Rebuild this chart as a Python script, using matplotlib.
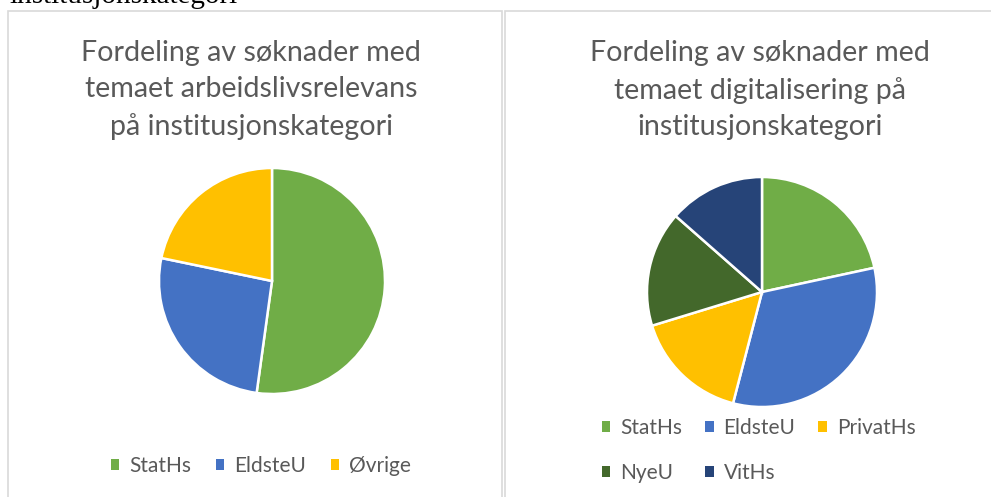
import matplotlib
matplotlib.use("Agg")
import matplotlib.pyplot as plt
from matplotlib.patches import Rectangle, Patch

W, H = 991, 497

# Data
left_categories = ["StatHs", "EldsteU", "Øvrige"]
left_values = [12, 6, 5]
left_colors = ["#70AD47", "#4472C4", "#FFC000"]
left_title = "Fordeling av søknader med\ntemaet arbeidslivsrelevans\npå institusjonskategori"

right_categories = ["StatHs", "EldsteU", "PrivatHs", "NyeU", "VitHs"]
right_values = [8, 12, 6, 6, 5]
right_colors = ["#70AD47", "#4472C4", "#FFC000", "#43682B", "#264478"]
right_title = "Fordeling av søknader med\ntemaet digitalisering på\ninstitusjonskategori"

top_caption = "institusjonskategori"

FONT = ["Lato", "DejaVu Sans"]
GREY = "#595959"

fig = plt.figure(figsize=(W / 100, H / 100), dpi=100)
fig.patch.set_facecolor("white")


def fx(px):
    return px / W


def fy(py):
    return 1 - py / H


# panel borders
for x0, x1 in [(8, 502), (505, 1000)]:
    fig.add_artist(Rectangle((fx(x0), fy(510)), fx(x1 - x0), (510 - 11) / H,
                             transform=fig.transFigure, fill=False,
                             edgecolor="#D9D9D9", linewidth=1.2))

# cut-off caption at top
fig.text(fx(9), fy(3), top_caption, family="Liberation Serif", fontsize=21,
         color="black", ha="left", va="baseline")


def make_pie(cx, cy, r, values, colors):
    ax = fig.add_axes([fx(cx - r), fy(cy + r), fx(2 * r), 2 * r / H])
    ax.pie(values, colors=colors, startangle=90, counterclock=False,
           wedgeprops=dict(edgecolor="white", linewidth=1.8))
    ax.set_xlim(-1, 1)
    ax.set_ylim(-1, 1)
    ax.set_aspect("auto")
    ax.axis("off")
    return ax


make_pie(272, 281, 113, left_values, left_colors)
make_pie(762, 292, 115, right_values, right_colors)

# titles
fig.text(fx(251), fy(90), left_title, family=FONT, fontsize=20.6, color=GREY,
         ha="center", va="center", linespacing=1.47)
fig.text(fx(760), fy(90), right_title, family=FONT, fontsize=20.6, color=GREY,
         ha="center", va="center", linespacing=1.47)

# legends
lh = [Patch(facecolor=c, edgecolor="none") for c in left_colors]
fig.legend(lh, left_categories, loc="center", bbox_to_anchor=(fx(261), fy(466)),
           ncol=3, frameon=False, prop=dict(family=FONT, size=15),
           labelcolor=GREY, handlelength=0.4, handleheight=0.4,
           handletextpad=0.48, columnspacing=1.2, borderaxespad=0, borderpad=0)

# order so that column-major filling shows the entries row by row
order = [0, 3, 1, 4, 2]
rh = [Patch(facecolor=right_colors[i], edgecolor="none") for i in order]
rl = [right_categories[i] for i in order]
fig.legend(rh, rl, loc="upper left", bbox_to_anchor=(fx(602), fy(418)),
           ncol=3, frameon=False, prop=dict(family=FONT, size=15),
           labelcolor=GREY, handlelength=0.4, handleheight=0.4,
           handletextpad=0.48, columnspacing=1.1, labelspacing=1.2,
           borderaxespad=0, borderpad=0)

fig.savefig("out.png", dpi=100, facecolor="white")
